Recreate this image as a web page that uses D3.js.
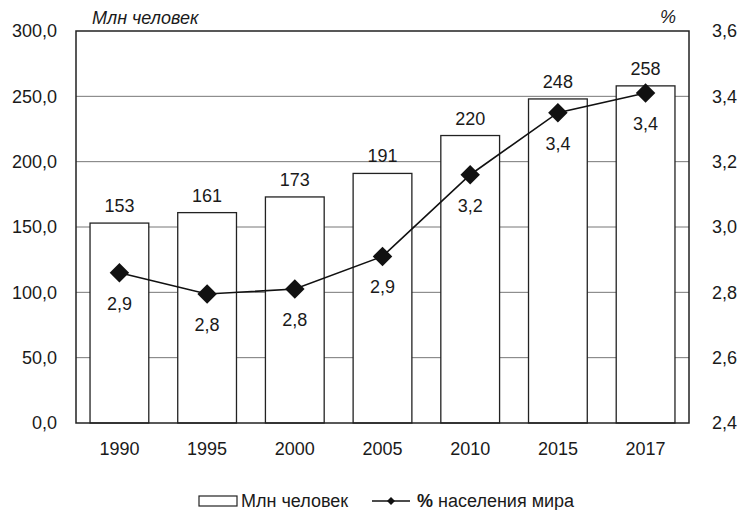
<!DOCTYPE html>
<html>
<head>
<meta charset="utf-8">
<script src="https://cdn.jsdelivr.net/npm/d3@7"></script>
<style>
    body { margin: 0; background: white; }
    text { font-family: "Liberation Sans", Arial, sans-serif; fill: #1a1a1a; }
</style>
</head>
<body>
<div id="chart"></div>
<script>
// data
var years = ["1990", "1995", "2000", "2005", "2010", "2015", "2017"];
var people = [153, 161, 173, 191, 220, 248, 258];          // млн человек
var share = [2.86, 2.795, 2.81, 2.91, 3.16, 3.35, 3.41];  // % населения мира
var shareLabels = ["2,9", "2,8", "2,8", "2,9", "3,2", "3,4", "3,4"];
var leftTicks = [0, 50, 100, 150, 200, 250, 300];
var rightTicks = [2.4, 2.6, 2.8, 3.0, 3.2, 3.4, 3.6];

var width = 741, height = 510;
var plot = {left: 76, right: 689, top: 31, bottom: 423};
var fmt = function(v, n) { return v.toFixed(n).replace(".", ","); };
var fontFam = "Liberation Sans, Arial, sans-serif";

var svg = d3.select("#chart").append("svg")
    .attr("width", width)
    .attr("height", height);

var x = d3.scaleBand()
    .domain(years)
    .range([plot.left, plot.right])
    .paddingInner(0.33)
    .paddingOuter(0.16);

var yL = d3.scaleLinear().domain([0, 300]).range([plot.bottom, plot.top]);
var yR = d3.scaleLinear().domain([2.4, 3.6]).range([plot.bottom, plot.top]);

// gridlines
svg.append("g")
    .selectAll("line")
    .data(leftTicks.slice(1, -1))
    .enter().append("line")
    .attr("x1", plot.left).attr("x2", plot.right)
    .attr("y1", d => yL(d)).attr("y2", d => yL(d))
    .attr("stroke", "#777")
    .attr("stroke-width", 1);

// bars
svg.append("g")
    .selectAll("rect")
    .data(years)
    .enter().append("rect")
    .attr("x", d => x(d))
    .attr("y", (d, i) => yL(people[i]))
    .attr("width", x.bandwidth())
    .attr("height", (d, i) => plot.bottom - yL(people[i]))
    .attr("fill", "white")
    .attr("stroke", "#222")
    .attr("stroke-width", 1.3);

// frame
svg.append("rect")
    .attr("x", plot.left).attr("y", plot.top)
    .attr("width", plot.right - plot.left)
    .attr("height", plot.bottom - plot.top)
    .attr("fill", "none")
    .attr("stroke", "#222")
    .attr("stroke-width", 1.5);

// bar value labels
svg.append("g")
    .selectAll("text")
    .data(years)
    .enter().append("text")
    .attr("x", d => x(d) + x.bandwidth() / 2)
    .attr("y", (d, i) => yL(people[i]) - 11)
    .attr("text-anchor", "middle")
    .style("font-size", "18px")
    .text((d, i) => people[i]);

// line
var line = d3.line()
    .x((d, i) => x(years[i]) + x.bandwidth() / 2)
    .y(d => yR(d));

svg.append("path")
    .datum(share)
    .attr("d", line)
    .attr("fill", "none")
    .attr("stroke", "#111")
    .attr("stroke-width", 1.6);

var diamond = d3.symbol().type(d3.symbolSquare).size(190);
svg.append("g")
    .selectAll("path")
    .data(share)
    .enter().append("path")
    .attr("d", diamond)
    .attr("transform", (d, i) => "translate(" + (x(years[i]) + x.bandwidth() / 2) + "," + yR(d) + ") rotate(45)")
    .attr("fill", "#111");

svg.append("g")
    .selectAll("text")
    .data(share)
    .enter().append("text")
    .attr("x", (d, i) => x(years[i]) + x.bandwidth() / 2)
    .attr("y", d => yR(d) + 37)
    .attr("text-anchor", "middle")
    .style("font-size", "18px")
    .text((d, i) => shareLabels[i]);

// axes
var axisL = svg.append("g")
    .attr("transform", "translate(" + plot.left + ",0)")
    .call(d3.axisLeft(yL).tickValues(leftTicks).tickSize(0).tickPadding(19).tickFormat(d => fmt(d, 1)));
axisL.select(".domain").remove();
axisL.selectAll("text").style("font-size", "18px").style("font-family", fontFam);

var axisR = svg.append("g")
    .attr("transform", "translate(" + plot.right + ",0)")
    .call(d3.axisRight(yR).tickValues(rightTicks).tickSize(0).tickPadding(23).tickFormat(d => fmt(d, 1)));
axisR.select(".domain").remove();
axisR.selectAll("text").style("font-size", "18px").style("font-family", fontFam);

var axisB = svg.append("g")
    .attr("transform", "translate(0," + plot.bottom + ")")
    .call(d3.axisBottom(x).tickSize(0).tickPadding(19));
axisB.select(".domain").remove();
axisB.selectAll("text").style("font-size", "18px").style("font-family", fontFam);

// axis titles
svg.append("text")
    .attr("x", 92).attr("y", 24)
    .style("font-size", "18px")
    .style("font-style", "italic")
    .text("Млн  человек");

svg.append("text")
    .attr("x", 660).attr("y", 23)
    .style("font-size", "18px")
    .style("font-style", "italic")
    .text("%");

// legend
var lg = svg.append("g").attr("transform", "translate(0,501)");
lg.append("rect")
    .attr("x", 199).attr("y", -5)
    .attr("width", 38).attr("height", 10)
    .attr("fill", "white").attr("stroke", "#222").attr("stroke-width", 1.2);
lg.append("text")
    .attr("x", 241).attr("y", 6)
    .style("font-size", "18px")
    .text("Млн  человек");

lg.append("line")
    .attr("x1", 372).attr("x2", 410)
    .attr("y1", 0).attr("y2", 0)
    .attr("stroke", "#111").attr("stroke-width", 1.4);
lg.append("path")
    .attr("d", d3.symbol().type(d3.symbolSquare).size(32))
    .attr("transform", "translate(391,0) rotate(45)")
    .attr("fill", "#111");
var lt = lg.append("text")
    .attr("x", 417).attr("y", 6)
    .style("font-size", "18px");
lt.append("tspan").style("font-weight", "bold").text("%");
lt.append("tspan").text(" населения мира");
</script>
</body>
</html>
